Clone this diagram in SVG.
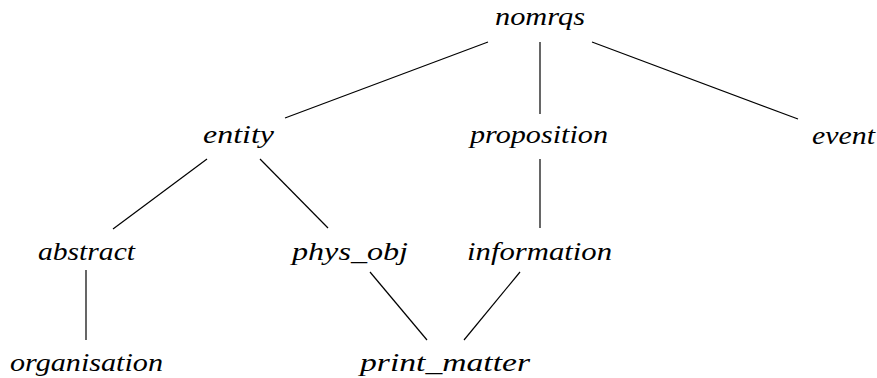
<svg xmlns="http://www.w3.org/2000/svg" width="877" height="378" viewBox="0 0 877 378">
<style>
.lbl{font-family:'Liberation Serif','DejaVu Serif',serif;font-style:italic;font-size:26px;fill:#000;text-anchor:middle}
.edge{stroke:#000;stroke-width:1.2;fill:none}
</style>
<rect width="877" height="378" fill="#fff"/>
<g id="connectors">
<line class="edge" x1="488" y1="42" x2="285" y2="118"/>
<line class="edge" x1="540" y1="42" x2="540" y2="114"/>
<line class="edge" x1="592" y1="42" x2="798" y2="119"/>
<line class="edge" x1="207" y1="159" x2="113" y2="229"/>
<line class="edge" x1="260" y1="159" x2="328" y2="228"/>
<line class="edge" x1="540" y1="159" x2="540" y2="228"/>
<line class="edge" x1="86" y1="270" x2="86" y2="340"/>
<line class="edge" x1="370" y1="272" x2="427" y2="340"/>
<line class="edge" x1="520" y1="272" x2="464" y2="340"/>
</g>
<g id="nomrqs"><text class="lbl" x="540" y="25" textLength="90" lengthAdjust="spacingAndGlyphs">nomrqs</text></g>
<g id="entity"><text class="lbl" x="238.5" y="143" textLength="71" lengthAdjust="spacingAndGlyphs">entity</text></g>
<g id="proposition"><text class="lbl" x="539" y="143" textLength="138" lengthAdjust="spacingAndGlyphs">proposition</text></g>
<g id="event"><text class="lbl" x="843.5" y="144" textLength="63" lengthAdjust="spacingAndGlyphs">event</text></g>
<g id="abstract"><text class="lbl" x="86.5" y="260" textLength="97" lengthAdjust="spacingAndGlyphs">abstract</text></g>
<g id="phys_obj"><text class="lbl" x="350" y="260" textLength="116" lengthAdjust="spacingAndGlyphs">phys_obj</text></g>
<g id="information"><text class="lbl" x="539.5" y="260" textLength="145" lengthAdjust="spacingAndGlyphs">information</text></g>
<g id="organisation"><text class="lbl" x="86.5" y="371" textLength="153" lengthAdjust="spacingAndGlyphs">organisation</text></g>
<g id="print_matter"><text class="lbl" x="445" y="371" textLength="170" lengthAdjust="spacingAndGlyphs">print_matter</text></g>
</svg>
